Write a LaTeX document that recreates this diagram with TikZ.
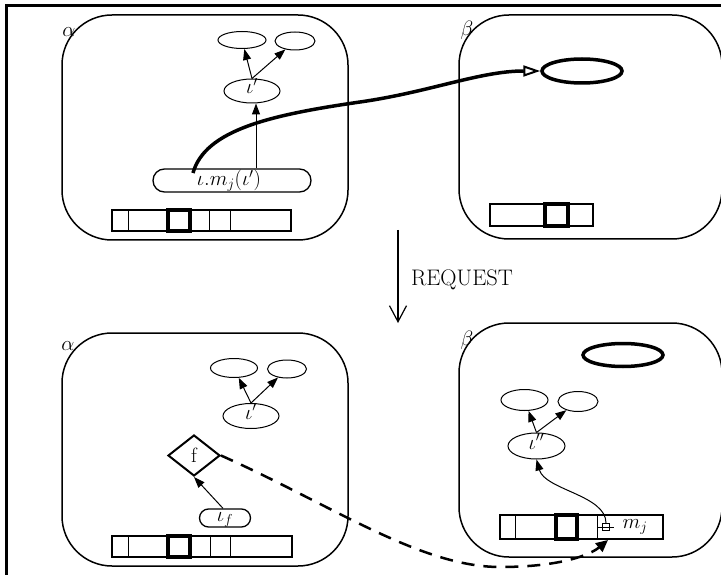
\documentclass[tikz,border=0pt]{standalone}
\usetikzlibrary{shapes.geometric,arrows.meta}
\begin{document}
\begin{tikzpicture}[x=1pt,y=-1pt,
  every node/.style={font=\fontsize{20.74}{25}\selectfont, inner sep=0pt},
  bigbox/.style={draw, rounded corners=50pt, line width=1.5pt},
  oval/.style={ellipse, draw, line width=1pt, text height=6pt, text depth=0pt},
  thickoval/.style={ellipse, draw, line width=3.5pt},
  stadium/.style={draw, line width=1.3pt, text height=8pt, text depth=2pt},
  barline/.style={draw, line width=2pt},
  thicksq/.style={draw, line width=3.5pt},
  arr/.style={line width=1pt, -{Triangle[length=11pt,width=8pt]}}]
\path[use as bounding box, clip] (0,0) rectangle (721,575);
% frame
\draw[line width=3pt] (6,5.5) rectangle (800,800);

% big boxes
\node[bigbox, minimum width=286pt, minimum height=225pt] (A1) at (205,127.5) {};
\node[bigbox, minimum width=263pt, minimum height=224pt] (B1) at (590.5,127) {};
\node[bigbox, minimum width=286pt, minimum height=233pt] (A2) at (205,449.5) {};
\node[bigbox, minimum width=263pt, minimum height=234pt] (B2) at (590.5,440) {};
\node (la1) at (69,32) {$\alpha$};
\node (lb1) at (467,30) {$\beta$};
\node (la2) at (68,346) {$\alpha$};
\node (lb2) at (467,340) {$\beta$};

% top-left contents
\node[oval, minimum width=48pt, minimum height=17pt] (E1) at (242,40) {};
\node[oval, minimum width=40pt, minimum height=18pt] (E2) at (295,41) {};
\node[oval, minimum width=56pt, minimum height=24pt] (I1) at (252,91) {$\iota'$};
\draw[arr] (I1.north) -- (E1);
\draw[arr] (I1.north) -- (E2);
\node[stadium, rounded corners=11.5pt, minimum width=158pt, minimum height=23pt] (M1) at (232,180.5) {};
\node (M1t) at (229,181) {$\iota.m_j(\iota')$};
\draw[arr] ([xshift=4pt]I1.south |- M1.north) -- ([xshift=4pt]I1.south);
% bar top-left
\draw[barline] (112,210) rectangle (291,231);
\draw[line width=1pt] (128,210) -- (128,231) (209,210) -- (209,231) (230,210) -- (230,231);
\draw[thicksq] (168,210) rectangle (190,231);

% top-right contents
\node[thickoval, minimum width=80pt, minimum height=24pt] (T1) at (582,71) {};
\draw[barline] (490,204) rectangle (593,226);
\draw[thicksq] (545,204) rectangle (568,226);

% thick curve
\coordinate (cs) at (193,173);
\draw[line width=3.5pt, -{Triangle[open, length=17pt, width=11pt, line width=2pt]}]
  (cs) .. controls (205,130) and (270,115) .. (360,102)
       .. controls (430,92) and (480,71) .. (T1.west);

% request arrow
\coordinate (r1) at (398,230);
\coordinate (r2) at (398,323);
\draw[line width=1.2pt, -{Straight Barb[length=16pt, width=17pt]}] (r1) -- (r2);
\node[font=\fontsize{22.5}{27}\selectfont] (req) at (462,280) {REQUEST};

% bottom-left contents
\node[oval, minimum width=47pt, minimum height=19pt] (E3) at (234,368) {};
\node[oval, minimum width=39pt, minimum height=18pt] (E4) at (287,369) {};
\node[oval, minimum width=56pt, minimum height=25pt] (I2) at (251,416) {$\iota'$};
\draw[arr] (I2.north) -- (E3);
\draw[arr] (I2.north) -- (E4);
\node[diamond, draw, line width=2pt, minimum width=52pt, minimum height=41pt] (D) at (194,455.5) {f};
\node[stadium, rounded corners=9pt, minimum width=51pt, minimum height=18pt] (F) at (225,518) {$\iota_f$};
\draw[arr] ([xshift=-2pt]F.north) -- (D.south);
\draw[barline] (112,536) rectangle (292,557);
\draw[line width=1pt] (128,536) -- (128,557) (210,536) -- (210,557) (230,536) -- (230,557);
\draw[thicksq] (168,536) rectangle (190,557);

% bottom-right contents
\node[thickoval, minimum width=80pt, minimum height=23pt] (T2) at (623,355) {};
\node[oval, minimum width=47pt, minimum height=21pt] (E5) at (524.5,400) {};
\node[oval, minimum width=40pt, minimum height=20pt] (E6) at (578,401.5) {};
\node[oval, minimum width=57pt, minimum height=26pt] (I3) at (536.5,446) {$\iota''$};
\draw[arr] (I3.north) -- (E5);
\draw[arr] (I3.north) -- (E6);
\draw[barline] (500,515) rectangle (663,539);
\draw[line width=1pt] (515,515) -- (515,539) (597,515) -- (597,539);
\draw[thicksq] (556,515) rectangle (577,539);
\node[draw, line width=1pt, minimum size=7pt] (sq) at (606,527) {};
\draw[line width=1pt] (598,527) -- (sq.west) (sq.east) -- (614,527);
\draw[line width=0.8pt] (sq.west) -- (sq.east);
\node (mj) at (635,527) {$m_j$};
\draw[arr] (sq.north) .. controls (606,495) and (545,490) .. (I3.south);

% dashed arrow
\coordinate (dt) at (608,540);
\draw[line width=2.5pt, dash pattern=on 13pt off 9pt, -{Triangle[length=12pt, width=11pt]}]
  (D.east) .. controls (330,504) and (420,567) .. (500,567)
           .. controls (560,567) and (590,555) .. (dt);
\end{tikzpicture}
\end{document}
